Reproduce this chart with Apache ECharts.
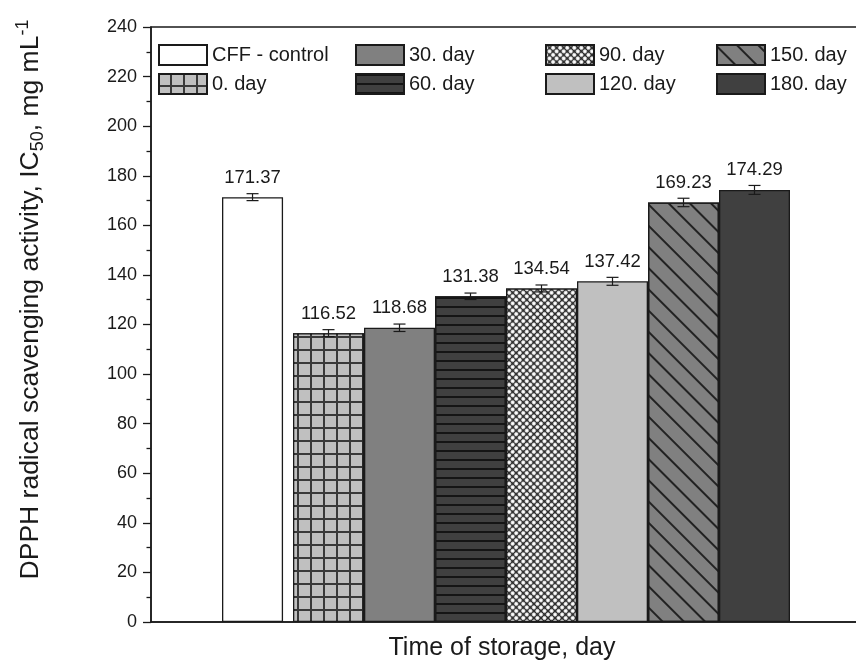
<!DOCTYPE html>
<html>
<head>
<meta charset="utf-8">
<script src="https://cdn.jsdelivr.net/npm/echarts@6/dist/echarts.min.js"></script>
<style>
  html, body { margin: 0; padding: 0; background: #fff; }
  #chart { width: 856px; height: 662px; }
</style>
</head>
<body>
<div id="chart"></div>
<script>
/* DPPH IC50 vs storage time — patterned bars with error bars */
const categories = ['CFF - control', '0. day', '30. day', '60. day', '90. day', '120. day', '150. day', '180. day'];
const values = [171.37, 116.52, 118.68, 131.38, 134.54, 137.42, 169.23, 174.29];
const errors = [1.4, 1.4, 1.5, 1.3, 1.4, 1.6, 1.7, 1.8];
const yTicks = { min: 0, max: 240, interval: 20 };

const ink = '#1a1a1a';
const font = 'Liberation Sans, Arial, sans-serif';
const controlRatio = 0.86;

// fill + decal per series (same order as categories)
const looks = [
  { color: '#ffffff' },
  { color: '#3a3a3a', decal: { symbol: 'rect', symbolSize: 1, color: '#c0c0c0', dashArrayX: [10.4, 1.4], dashArrayY: [10.4, 1.4] } },
  { color: '#808080' },
  { color: '#404040', decal: { symbol: 'rect', symbolSize: 1, color: '#151515', dashArrayX: [1, 0], dashArrayY: [1.4, 6.9] } },
  { color: '#2a2a2a', decal: { symbol: 'circle', symbolSize: 1, color: '#ffffff', dashArrayX: [4, 0.6], dashArrayY: [4, 0.6], rotation: Math.PI / 4 } },
  { color: '#c0c0c0' },
  { color: '#808080', decal: { symbol: 'rect', symbolSize: 1, color: '#222222', dashArrayX: [1, 0], dashArrayY: [1.2, 13], rotation: Math.PI / 4 } },
  { color: '#404040' }
];

// empty slot on each side of the bars
const axisCats = [''].concat(categories, ['']);

const barSeries = categories.map((name, i) => {
  const data = axisCats.map(() => null);
  data[i + 1] = values[i];
  return {
    name, type: 'bar', data,
    barWidth: i === 0 ? (controlRatio * 100) + '%' : '100%',
    barGap: '-100%',
    itemStyle: Object.assign({ borderColor: ink, borderWidth: 1.3 }, looks[i]),
    label: {
      show: true, position: 'top', distance: 10,
      fontFamily: font, fontSize: 18.5, color: ink,
      formatter: p => p.value.toFixed(2)
    },
    emphasis: { disabled: true },
    z: 2
  };
});

const errSeries = {
  type: 'custom', z: 5, silent: true,
  data: categories.map((_, i) => [i + 1, values[i] - errors[i], values[i] + errors[i]]),
  renderItem(params, api) {
    const idx = api.value(0);
    const lo = api.coord([idx, api.value(1)]);
    const hi = api.coord([idx, api.value(2)]);
    const band = api.size([1, 0])[0];
    const cx = lo[0] + (idx === 1 ? -(1 - controlRatio) * band / 2 : 0);
    const w = 6;
    const st = { stroke: ink, lineWidth: 1.2 };
    return {
      type: 'group',
      children: [
        { type: 'line', shape: { x1: cx, y1: lo[1], x2: cx, y2: hi[1] }, style: st },
        { type: 'line', shape: { x1: cx - w, y1: lo[1], x2: cx + w, y2: lo[1] }, style: st },
        { type: 'line', shape: { x1: cx - w, y1: hi[1], x2: cx + w, y2: hi[1] }, style: st }
      ]
    };
  }
};

const legendLefts = [158, 355, 545, 716];
const legends = legendLefts.map((left, c) => ({
  left, top: 44, orient: 'vertical',
  data: categories.slice(c * 2, c * 2 + 2),
  icon: 'rect', itemWidth: 48, itemHeight: 20, itemGap: 7, padding: 0,
  selectedMode: false,
  textStyle: { fontFamily: font, fontSize: 20, color: ink }
}));

const chart = echarts.init(document.getElementById('chart'));
chart.setOption({
  animation: false,
  backgroundColor: '#fff',
  // frame continues past the right edge of the picture, as in the original
  grid: {
    left: 151, top: 27, width: 710, height: 595, outerBoundsMode: 'none',
    show: true, borderColor: ink, borderWidth: 1.5
  },
  legend: legends,
  xAxis: {
    type: 'category', data: axisCats,
    name: 'Time of storage, day', nameLocation: 'middle', nameGap: 14,
    nameTextStyle: { fontFamily: font, fontSize: 25, color: ink, padding: [0, 8, 0, 0] },
    axisLine: { lineStyle: { color: ink, width: 1.5 } },
    axisTick: { show: false },
    axisLabel: { show: false }
  },
  yAxis: {
    type: 'value', min: yTicks.min, max: yTicks.max, interval: yTicks.interval,
    name: '{n|DPPH radical scavenging activity, IC}{sub|50}{n|, mg mL}{sup|-1}',
    nameLocation: 'middle', nameRotate: 90, nameGap: 104,
    nameTextStyle: {
      fontFamily: font, color: ink, padding: [0, 0, 0, 50],
      rich: {
        n: { fontFamily: font, fontSize: 26.5, color: ink, lineHeight: 33, verticalAlign: 'middle' },
        sub: { fontFamily: font, fontSize: 18, color: ink, lineHeight: 18, verticalAlign: 'bottom' },
        sup: { fontFamily: font, fontSize: 18, color: ink, lineHeight: 18, verticalAlign: 'top' }
      }
    },
    axisLine: { show: true, lineStyle: { color: ink, width: 1.5 } },
    axisTick: { show: true, inside: false, length: 8, lineStyle: { color: ink, width: 1.3 } },
    minorTick: { show: true, splitNumber: 2, length: 4.5, lineStyle: { color: ink, width: 1.3 } },
    splitLine: { show: false },
    axisLabel: { fontFamily: font, fontSize: 18, color: ink, margin: 14 }
  },
  series: barSeries.concat([errSeries])
});
</script>
</body>
</html>
